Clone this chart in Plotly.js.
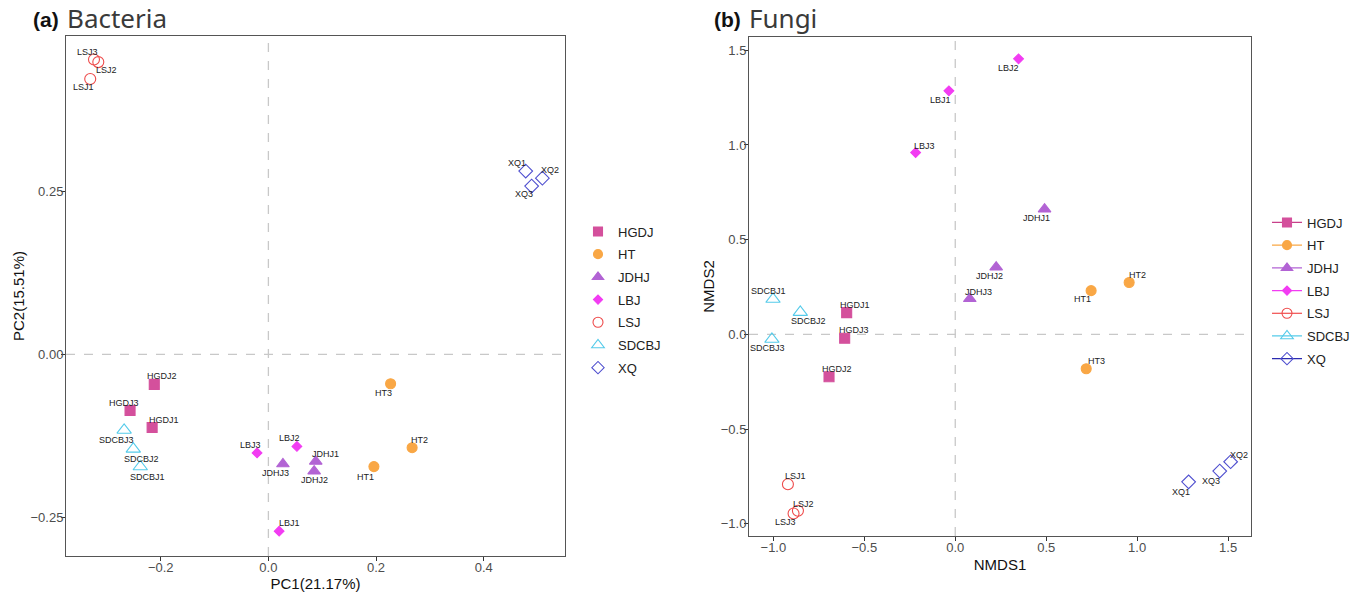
<!DOCTYPE html>
<html>
<head>
<meta charset="utf-8">
<script src="https://cdn.plot.ly/plotly-3.0.1.min.js"></script>
<style>html,body{margin:0;padding:0;background:#fff;}#chart{width:1357px;height:592px;}</style>
</head>
<body>
<div id="chart"></div>
<script>
// ---------- data ----------
const groups = ['HGDJ', 'HT', 'JDHJ', 'LBJ', 'LSJ', 'SDCBJ', 'XQ'];
const sampleLabels = ['HGDJ1','HGDJ2','HGDJ3','HT1','HT2','HT3','JDHJ1','JDHJ2','JDHJ3',
  'LBJ1','LBJ2','LBJ3','LSJ1','LSJ2','LSJ3','SDCBJ1','SDCBJ2','SDCBJ3','XQ1','XQ2','XQ3'];

// (a) Bacteria PCA
const bacteriaPC1 = [-0.216,-0.212,-0.257, 0.196,0.267,0.227, 0.088,0.085,0.027,
  0.020,0.053,-0.021, -0.331,-0.316,-0.324, -0.238,-0.251,-0.268, 0.478,0.509,0.489];
const bacteriaPC2 = [-0.112,-0.046,-0.086, -0.172,-0.143,-0.045, -0.164,-0.179,-0.168,
  -0.271,-0.141,-0.151, 0.422,0.448,0.452, -0.172,-0.145,-0.116, 0.281,0.270,0.258];

// (b) Fungi NMDS
const fungiNMDS1 = [-0.597,-0.694,-0.608, 0.747,0.956,0.720, 0.491,0.225,0.080,
  -0.035,0.348,-0.218, -0.920,-0.865,-0.889, -1.002,-0.852,-1.008, 1.283,1.514,1.454];
const fungiNMDS2 = [0.115,-0.223,-0.020, 0.231,0.274,-0.181, 0.661,0.355,0.188,
  1.286,1.455,0.960, -0.791,-0.931,-0.945, 0.186,0.117,-0.025, -0.778,-0.672,-0.721];

const axisTitles = {a: ['PC1(21.17%)', 'PC2(15.51%)'], b: ['NMDS1', 'NMDS2']};
const panelTitles = {a: ['(a)', 'Bacteria'], b: ['(b)', 'Fungi']};

// ---------- styles ----------
const groupStyle = {
  HGDJ:  {color: '#D4509C', symbol: 'square',           size: 10, legSize: 9},
  HT:    {color: '#F9A745', symbol: 'circle',           size: 10, legSize: 9},
  JDHJ:  {color: '#B263D4', symbol: 'triangle-up',      size: 11, legSize: 10},
  LBJ:   {color: '#F23CF2', symbol: 'diamond',          size: 7.5, legSize: 7},
  LSJ:   {color: '#EE4B4B', symbol: 'circle-open',      size: 11, legSize: 10},
  SDCBJ: {color: '#55CBEA', symbol: 'triangle-up-open', size: 12.5, legSize: 11},
  XQ:    {color: '#4F4FCF', symbol: 'diamond-open',     size: 10.5, legSize: 9.5}
};
const legendLine = {XQ: '#2B2BB0', LSJ: '#EE2B2B', HGDJ: '#C8408A'};
// label offsets from marker centre in px [dx, dy(down)]
const offA = {HGDJ1:[12,-7],HGDJ2:[8,-8],HGDJ3:[-6,-8],HT1:[-8,10],HT2:[7,-8],HT3:[-7,9],
  JDHJ1:[10,-7],JDHJ2:[0,9],JDHJ3:[-7,9],LBJ1:[10,-8],LBJ2:[-7,-8],LBJ3:[-7,-8],
  LSJ1:[-7,8],LSJ2:[8,8],LSJ3:[-6,-7],SDCBJ1:[7,10],SDCBJ2:[8,10],SDCBJ3:[-8,10],
  XQ1:[-9,-8],XQ2:[8,-8],XQ3:[-8,8]};
const offB = {HGDJ1:[8,-8],HGDJ2:[8,-8],HGDJ3:[9,-8],HT1:[-9,8],HT2:[8,-8],HT3:[10,-8],
  JDHJ1:[-8,9],JDHJ2:[-7,9],JDHJ3:[9,-7],LBJ1:[-8,9],LBJ2:[-10,9],LBJ3:[9,-7],
  LSJ1:[8,-8],LSJ2:[6,-7],LSJ3:[-8,9],SDCBJ1:[-5,-8],SDCBJ2:[8,9],SDCBJ3:[-4,9],
  XQ1:[-8,10],XQ2:[8,-7],XQ3:[-9,10]};

const labelFont = {family: 'Liberation Sans, Arial', size: 9, color: '#222'};
const groupOf = s => s.replace(/\d+$/, '');
const traces = [];
const annotations = [];
function addPanel(xs, ys, xa, ya, off, legendName, withLine) {
  groups.forEach(g => {
    const idx = sampleLabels.map((s, i) => groupOf(s) === g ? i : -1).filter(i => i >= 0);
    const st = groupStyle[g];
    traces.push({
      type: 'scatter', mode: 'markers', name: g,
      x: idx.map(i => xs[i]), y: idx.map(i => ys[i]),
      text: idx.map(i => sampleLabels[i]),
      marker: {color: st.color, symbol: st.symbol, size: st.size, line: {color: st.color, width: 1.1}},
      xaxis: xa, yaxis: ya, showlegend: false, cliponaxis: false
    });
    traces.push({
      type: 'scatter', mode: withLine ? 'lines+markers' : 'markers', name: g, x: [null], y: [null],
      marker: {color: st.color, symbol: st.symbol, size: st.legSize, line: {color: st.color, width: 1.1}},
      line: {color: legendLine[g] || st.color, width: 1.2},
      xaxis: xa, yaxis: ya, showlegend: true, legend: legendName, legendgroup: legendName + g
    });
    idx.forEach(i => {
      const o = off[sampleLabels[i]];
      annotations.push({xref: xa, yref: ya, x: xs[i], y: ys[i], text: sampleLabels[i], showarrow: false,
        xanchor: 'center', yanchor: 'middle', xshift: o[0], yshift: -o[1], font: labelFont});
    });
  });
}
addPanel(bacteriaPC1, bacteriaPC2, 'x', 'y', offA, 'legend', false);
addPanel(fungiNMDS1, fungiNMDS2, 'x2', 'y2', offB, 'legend2', true);

const W = 1357, H = 592;
const px = v => v / W, py = v => 1 - v / H;
const axBase = {
  showline: true, mirror: true, linecolor: '#555', linewidth: 1,
  ticks: 'outside', ticklen: 4, tickcolor: '#333', tickwidth: 1, ticklabelstandoff: -5,
  showgrid: false, zeroline: false,
  tickfont: {family: 'Liberation Sans, Arial', size: 13, color: '#4D4D4D'}
};
const titleFont = {family: 'Liberation Sans, Arial', size: 15, color: '#111'};
const titleStyle = (s, fam, size, col) => ({family: fam, size: size, color: col});
annotations.push(
  {xref: 'paper', yref: 'paper', x: px(31), y: py(19), xanchor: 'left', yanchor: 'middle', showarrow: false,
    text: '<b>' + panelTitles.a[0] + '</b>', font: titleStyle(0, 'Liberation Sans, Arial', 21, '#111')},
  {xref: 'paper', yref: 'paper', x: px(65), y: py(18), xanchor: 'left', yanchor: 'middle', showarrow: false,
    text: panelTitles.a[1], font: titleStyle(0, 'Noto Sans', 26, '#3a3a3a')},
  {xref: 'paper', yref: 'paper', x: px(712), y: py(19), xanchor: 'left', yanchor: 'middle', showarrow: false,
    text: '<b>' + panelTitles.b[0] + '</b>', font: titleStyle(0, 'Liberation Sans, Arial', 21, '#111')},
  {xref: 'paper', yref: 'paper', x: px(747), y: py(18), xanchor: 'left', yanchor: 'middle', showarrow: false,
    text: panelTitles.b[1], font: titleStyle(0, 'Noto Sans', 26, '#3a3a3a')}
);
const dashLine = {color: '#C8C8C8', width: 1.3, dash: 'dash'};
const layout = {
  width: W, height: H, paper_bgcolor: '#fff', plot_bgcolor: '#fff',
  margin: {l: 0, r: 0, t: 0, b: 0},
  showlegend: true,
  xaxis: Object.assign({}, axBase, {domain: [px(66), px(565)], range: [-0.376, 0.551], dtick: 0.2, tick0: 0, tickformat: '.1f',
    title: {text: axisTitles.a[0], font: titleFont, standoff: 8}, anchor: 'y'}),
  yaxis: Object.assign({}, axBase, {domain: [py(556), py(36)], range: [-0.309, 0.488], dtick: 0.25, tick0: 0, tickformat: '.2f',
    title: {text: axisTitles.a[1], font: titleFont, standoff: 2}, anchor: 'x'}),
  xaxis2: Object.assign({}, axBase, {domain: [px(749), px(1251)], range: [-1.134, 1.626], dtick: 0.5, tick0: 0, tickformat: '.1f',
    title: {text: axisTitles.b[0], font: titleFont, standoff: 5}, anchor: 'y2'}),
  yaxis2: Object.assign({}, axBase, {domain: [py(536), py(37)], range: [-1.064, 1.570], dtick: 0.5, tick0: 0, tickformat: '.1f',
    title: {text: axisTitles.b[1], font: titleFont, standoff: 2}, anchor: 'x2'}),
  legend: {x: px(578), y: py(216.5), xanchor: 'left', yanchor: 'top', traceorder: 'grouped', tracegroupgap: 2.8,
    font: {family: 'Liberation Sans, Arial', size: 13, color: '#222'}, bgcolor: 'rgba(0,0,0,0)'},
  legend2: {x: px(1267), y: py(207.5), xanchor: 'left', yanchor: 'top', traceorder: 'grouped', tracegroupgap: 2.8,
    font: {family: 'Liberation Sans, Arial', size: 13, color: '#222'}, bgcolor: 'rgba(0,0,0,0)'},
  shapes: [
    {type: 'line', xref: 'x', yref: 'y domain', x0: 0, x1: 0, y0: 0, y1: 1, line: dashLine, layer: 'below'},
    {type: 'line', xref: 'x domain', yref: 'y', x0: 0, x1: 1, y0: 0, y1: 0, line: dashLine, layer: 'below'},
    {type: 'line', xref: 'x2', yref: 'y2 domain', x0: 0, x1: 0, y0: 0, y1: 1, line: dashLine, layer: 'below'},
    {type: 'line', xref: 'x2 domain', yref: 'y2', x0: 0, x1: 1, y0: 0, y1: 0, line: dashLine, layer: 'below'}
  ],
  annotations: annotations
};
Plotly.newPlot('chart', traces, layout, {displayModeBar: false, staticPlot: true});
</script>
</body>
</html>
